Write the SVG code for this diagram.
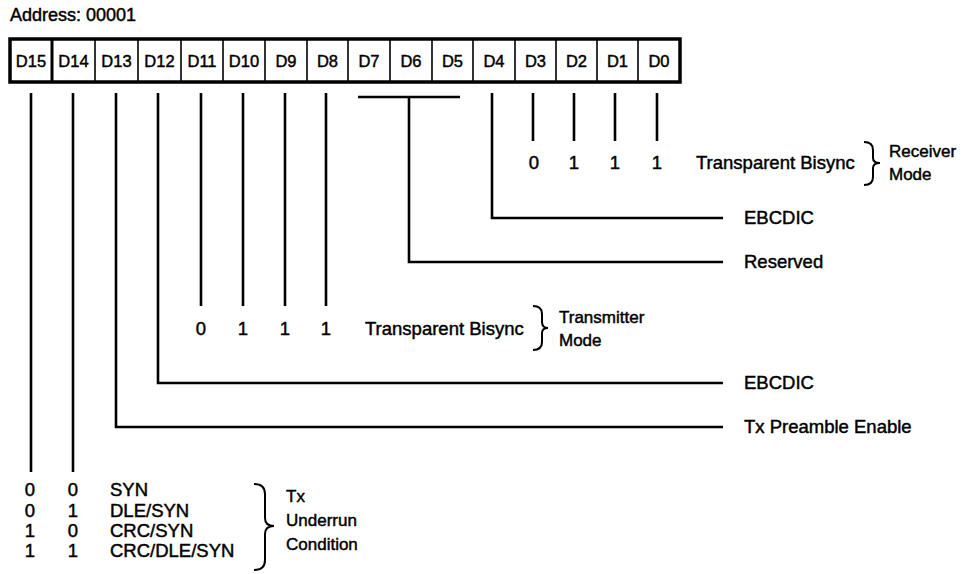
<svg xmlns="http://www.w3.org/2000/svg" width="967" height="574" viewBox="0 0 967 574">
<style>
text{font-family:"Liberation Sans",Arial,sans-serif;font-size:18.5px;fill:#000;stroke:#000;stroke-width:0.45}
.c{text-anchor:middle}
.cell{font-size:16.5px}
.sm{font-size:17px}
.ln{stroke:#000;stroke-width:2.6;fill:none}
.thin{stroke:#000;stroke-width:1.6;fill:none}
.br{stroke:#000;stroke-width:2;fill:none}
</style>
<rect width="967" height="574" fill="#fff"/>
<g id="address"><text x="10" y="21" style="font-size:18px">Address: 00001</text></g>
<g id="register">
<rect x="10" y="39" width="670" height="43" fill="#fff" stroke="#000" stroke-width="3.5"/>
<path class="thin" d="M52 39V82M95 39V82M138 39V82M181 39V82M223 39V82M265 39V82M307 39V82M348 39V82M390 39V82M432 39V82M473 39V82M515 39V82M556 39V82M597 39V82M638 39V82"/>
<path d="M52 39V82" stroke="#000" stroke-width="3"/>
<text class="c cell" x="31" y="67">D15</text>
<text class="c cell" x="73.5" y="67">D14</text>
<text class="c cell" x="116.5" y="67">D13</text>
<text class="c cell" x="159.5" y="67">D12</text>
<text class="c cell" x="202" y="67">D11</text>
<text class="c cell" x="244" y="67">D10</text>
<text class="c cell" x="286" y="67">D9</text>
<text class="c cell" x="327.5" y="67">D8</text>
<text class="c cell" x="369" y="67">D7</text>
<text class="c cell" x="411" y="67">D6</text>
<text class="c cell" x="452.5" y="67">D5</text>
<text class="c cell" x="494" y="67">D4</text>
<text class="c cell" x="535.5" y="67">D3</text>
<text class="c cell" x="576.5" y="67">D2</text>
<text class="c cell" x="617.5" y="67">D1</text>
<text class="c cell" x="659" y="67">D0</text>
</g>
<g id="connectors">
<path class="ln" d="M31 93V472M73 93V472"/>
<path class="ln" d="M116 93V427H723"/>
<path class="ln" d="M158 93V383H723"/>
<path class="ln" d="M201 93V306M243 93V306M285 93V306M326 93V306"/>
<path class="ln" d="M358 97H460M409 97V262H723"/>
<path class="ln" d="M492 93V218H723"/>
<path class="ln" d="M533 93V141M574 93V141M615 93V141M657 93V141"/>
</g>
<g id="receiver-mode">
<text class="c" x="534" y="169">0</text>
<text class="c" x="574" y="169">1</text>
<text class="c" x="615" y="169">1</text>
<text class="c" x="657" y="169">1</text>
<text x="696" y="169">Transparent Bisync</text>
<path class="br" d="M864 142Q873 142 873 150V158Q873 163 880 163Q873 163 873 168V177Q873 185 864 185"/>
<text class="sm" x="889" y="157">Receiver</text>
<text class="sm" x="889" y="180">Mode</text>
</g>
<g id="d4-ebcdic"><text x="744" y="224">EBCDIC</text></g>
<g id="reserved"><text x="744" y="268">Reserved</text></g>
<g id="transmitter-mode">
<text class="c" x="201" y="335">0</text>
<text class="c" x="243" y="335">1</text>
<text class="c" x="285" y="335">1</text>
<text class="c" x="326" y="335">1</text>
<text x="365" y="335">Transparent Bisync</text>
<path class="br" d="M533 306Q542 306 542 314V322Q542 328 548 328Q542 328 542 333V342Q542 350 533 350"/>
<text class="sm" x="559" y="323">Transmitter</text>
<text class="sm" x="559" y="346">Mode</text>
</g>
<g id="d12-ebcdic"><text x="744" y="389">EBCDIC</text></g>
<g id="tx-preamble"><text x="744" y="433">Tx Preamble Enable</text></g>
<g id="tx-underrun">
<text class="c" x="30" y="496">0</text><text class="c" x="73" y="496">0</text><text x="110" y="496">SYN</text>
<text class="c" x="30" y="517">0</text><text class="c" x="73" y="517">1</text><text x="110" y="517">DLE/SYN</text>
<text class="c" x="30" y="537">1</text><text class="c" x="73" y="537">0</text><text x="110" y="537">CRC/SYN</text>
<text class="c" x="30" y="557">1</text><text class="c" x="73" y="557">1</text><text x="110" y="557">CRC/DLE/SYN</text>
<path class="br" d="M254 484Q265 484 265 494V518Q265 526 274 526Q265 526 265 534V560Q265 570 254 570"/>
<text class="sm" x="286" y="502">Tx</text>
<text class="sm" x="286" y="526">Underrun</text>
<text class="sm" x="286" y="550">Condition</text>
</g>
</svg>
